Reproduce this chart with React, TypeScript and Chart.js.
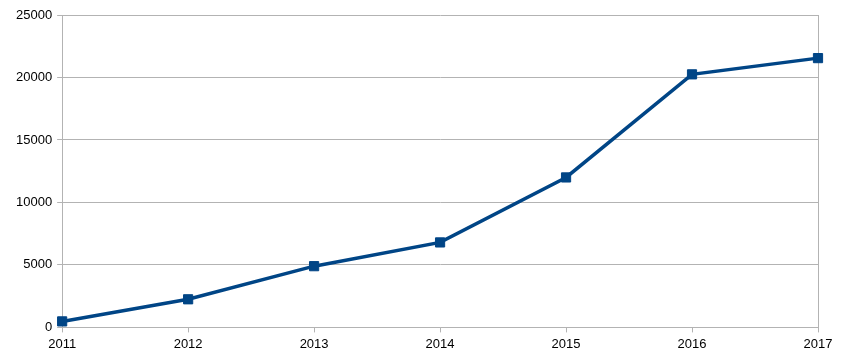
import React, { useEffect, useRef } from "react";
import { Chart, registerables } from "chart.js";

Chart.register(...registerables);

const categories = ["2011", "2012", "2013", "2014", "2015", "2016", "2017"];
const values = [480, 2250, 4900, 6800, 12000, 20250, 21550];

export default function App() {
  const ref = useRef<HTMLCanvasElement | null>(null);
  useEffect(() => {
    if (!ref.current) return;
    const last = categories.length - 1;
    const chart = new Chart(ref.current, {
      type: "line",
      data: {
        labels: categories,
        datasets: [
          {
            data: values,
            borderColor: "#004586",
            backgroundColor: "#004586",
            borderWidth: 3.5,
            pointStyle: "rect",
            pointRadius: 6.5,
            pointBorderWidth: 1,
            pointBackgroundColor: "#004586",
            pointBorderColor: "#004586",
            tension: 0,
          },
        ],
      },
      options: {
        responsive: false,
        animation: false,
        devicePixelRatio: 1,
        layout: { padding: { left: 11, right: 31, top: 15, bottom: 2 } },
        plugins: { legend: { display: false }, tooltip: { enabled: false } },
        scales: {
          x: {
            offset: false,
            grid: {
              display: true,
              drawOnChartArea: true,
              color: (c: any) =>
                c.index === 0 || c.index === last ? "#b3b3b3" : "rgba(0,0,0,0)",
              tickColor: "#b3b3b3",
              tickLength: 5,
              lineWidth: 1,
            },
            border: { display: true, color: "#b3b3b3" },
            ticks: {
              color: "#000",
              font: { family: "'Liberation Sans', Arial, sans-serif", size: 13 },
              padding: 4,
              maxRotation: 0,
              autoSkip: false,
            },
          },
          y: {
            min: 0,
            max: 25000,
            grid: {
              color: "#b3b3b3",
              tickColor: "#b3b3b3",
              tickLength: 5,
              lineWidth: 1,
            },
            border: { display: true, color: "#b3b3b3" },
            ticks: {
              stepSize: 5000,
              color: "#000",
              font: { family: "'Liberation Sans', Arial, sans-serif", size: 13 },
              padding: 5,
              callback: (v: any) => String(v),
            },
          },
        },
      },
    });
    return () => chart.destroy();
  }, []);
  return (
    <div style={{ position: "absolute", left: 0, top: 0, width: 849, height: 358, background: "#fff" }}>
      <canvas ref={ref} width={849} height={358} style={{ width: 849, height: 358 }} />
    </div>
  );
}
